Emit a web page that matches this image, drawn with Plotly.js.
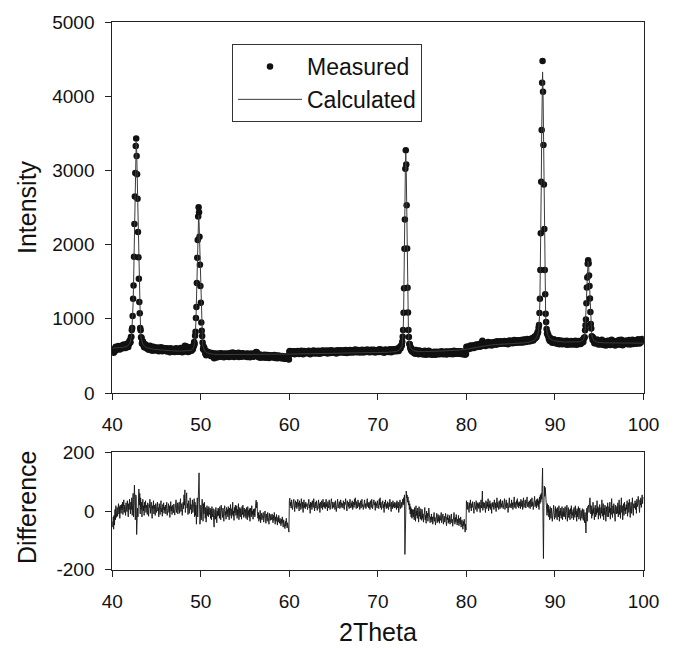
<!DOCTYPE html>
<html>
<head>
<meta charset="utf-8">
<script src="https://cdn.plot.ly/plotly-3.0.1.min.js"></script>
<style>html,body{margin:0;padding:0;background:#fff;}#chart{width:675px;height:648px;}</style>
</head>
<body>
<div id="chart"></div>
<script>
// 2Theta sampling grid: start and step of the scan
const X_START = 40;
const X_STEP = 0.05;

// Calculated (fitted) intensity, one row per degree (40.00 ... 40.95, 41.00 ...), last value at 100.00
const calculated = [
605,605,605,605,605,605,605,605,606,606,606,607,607,608,608,609,609,610,611,612,
613,613,614,615,615,616,617,618,619,621,623,625,626,629,632,636,641,647,655,665,
677,695,720,753,805,891,1019,1211,1469,1802,2191,2608,2995,3275,3380,3274,2994,2607,2190,1800,
1466,1207,1015,887,800,747,714,688,670,657,646,638,631,626,622,618,615,612,610,607,
605,603,602,601,599,598,596,595,594,593,593,591,591,590,589,589,588,587,586,586,
585,585,584,584,583,583,582,582,581,581,580,580,579,579,578,578,577,577,576,576,
575,575,574,574,573,573,572,572,572,571,571,571,570,570,570,569,569,569,568,568,
568,567,567,567,566,566,566,565,565,565,564,564,564,564,564,563,563,563,563,563,
564,564,563,564,564,564,564,565,564,565,566,566,567,568,568,569,571,572,575,578,
582,588,596,609,621,644,680,742,841,991,1203,1473,1779,2081,2309,2395,2307,2077,1774,1466,
1195,981,830,729,666,628,604,590,576,566,559,553,548,544,541,538,537,535,533,532,
530,529,528,527,526,525,524,524,523,523,522,522,521,521,520,520,520,519,519,519,
518,518,518,518,517,517,517,517,517,517,517,517,516,516,516,516,516,516,516,516,
516,516,516,516,516,516,516,516,516,516,516,516,516,516,516,516,516,516,516,516,
516,516,516,516,516,516,516,516,516,516,516,516,516,516,516,516,516,516,516,516,
516,516,516,516,516,516,516,516,516,516,516,516,516,516,516,516,516,516,516,516,
516,516,516,516,516,516,516,516,516,516,516,516,516,516,516,516,516,516,516,516,
516,516,516,516,516,516,516,516,516,516,517,517,517,517,517,517,517,517,517,517,
517,517,517,517,517,518,518,518,518,518,518,518,518,518,518,519,519,519,519,519,
519,519,519,519,519,520,520,520,520,520,520,520,521,521,521,521,521,521,522,522,
522,522,522,523,523,523,523,524,524,524,524,525,525,525,525,525,526,526,526,526,
526,526,527,527,527,527,527,528,528,528,528,528,528,529,529,529,529,529,529,529,
529,530,530,530,530,530,530,530,530,531,531,531,531,531,531,531,531,531,532,532,
532,532,532,532,532,532,532,532,533,533,533,533,533,533,533,533,533,533,534,534,
534,534,534,534,534,534,534,534,534,535,535,535,535,535,535,535,535,535,535,536,
536,536,536,536,536,536,536,536,536,537,537,537,537,537,537,537,537,537,537,538,
538,538,538,538,538,538,538,538,538,539,539,539,539,539,539,539,539,539,539,540,
540,540,540,540,540,540,540,540,540,541,541,541,541,541,541,541,541,541,541,542,
542,542,542,542,542,542,542,542,542,543,543,543,543,543,543,543,543,543,543,544,
544,544,544,544,544,544,544,544,544,545,545,545,545,545,545,545,545,545,545,546,
546,546,546,546,546,546,546,546,546,546,546,546,546,547,547,547,547,547,547,547,
548,548,548,548,549,549,549,550,550,550,551,551,552,552,553,553,554,554,555,556,
557,558,559,561,563,566,569,572,576,581,586,593,601,613,629,656,718,828,1037,1386,
1890,2485,3011,3231,3011,2486,1891,1387,1038,829,719,657,631,615,603,595,588,583,579,575,
572,569,567,566,564,563,562,561,561,560,560,559,560,559,559,558,558,559,558,558,
558,558,558,558,558,558,558,559,559,559,559,559,559,560,560,560,560,560,560,561,
561,561,561,561,561,562,562,562,562,562,563,563,563,563,563,564,564,564,564,564,
565,565,565,566,566,566,566,567,567,567,568,568,568,568,569,569,569,570,570,570,
571,571,571,572,572,572,573,573,573,574,574,574,575,575,575,576,576,576,577,577,
578,578,579,579,580,580,581,581,582,582,583,583,584,584,585,586,586,587,588,589,
590,591,592,593,594,596,597,598,600,601,603,604,606,607,609,610,612,613,614,616,
617,618,620,621,622,623,625,626,627,628,629,630,631,632,633,634,635,636,637,638,
638,639,640,640,641,642,642,643,644,644,645,645,646,646,647,647,648,648,649,649,
650,650,651,651,651,652,652,653,653,653,654,654,655,655,655,656,656,657,657,657,
658,658,658,659,659,659,660,660,660,661,661,661,662,662,662,663,663,663,664,664,
665,665,665,666,666,666,667,667,667,668,668,668,669,669,669,670,670,670,671,671,
672,672,672,673,673,673,674,674,674,675,675,676,678,678,679,680,680,681,682,682,
684,684,685,687,688,689,691,692,694,697,699,701,705,708,712,718,724,731,740,751,
770,781,807,843,910,1030,1245,1601,2122,2787,3504,4090,4327,4091,3506,2790,2126,1606,1251,1037,
918,852,816,791,780,762,751,742,735,729,724,720,716,713,711,709,707,704,703,702,
700,699,698,696,696,695,694,693,693,692,691,691,691,690,689,689,689,688,688,688,
686,686,686,686,685,685,685,685,685,684,684,684,684,684,683,683,683,683,683,682,
684,684,684,684,684,684,685,685,684,685,685,686,686,687,687,688,689,691,693,696,
699,703,707,713,721,734,756,792,852,941,1067,1228,1411,1590,1726,1778,1726,1590,1411,1228,
1066,940,851,791,754,732,719,711,705,701,697,694,691,688,686,685,684,683,682,682,
681,680,679,679,678,678,678,677,677,677,676,676,676,676,676,675,675,675,675,675,
675,675,675,675,675,675,675,675,675,675,675,675,675,675,675,675,675,675,675,675,
675,675,675,675,675,675,675,675,675,675,674,674,674,674,674,674,674,674,674,674,
674,674,674,674,674,674,674,674,674,674,674,674,674,674,674,674,674,674,674,674,
673,673,673,673,673,673,673,673,673,673,673,673,673,673,673,673,673,673,673,673,
672
];

// Difference (measured - calculated), same grid
const difference = [
-35,-55,-20,-62,-15,-48,5,-30,18,-22,-5,12,-18,8,25,-10,15,-25,20,2,
-8,22,5,30,-12,15,38,-5,20,8,-15,28,12,-2,35,10,-20,25,5,40,
12,-10,30,5,45,-15,20,60,-20,35,88,40,-30,55,50,-80,-45,10,-20,30,
75,20,60,-10,45,5,30,-20,25,40,0,18,-15,30,10,35,-5,20,8,-12,
28,5,-18,22,12,40,-8,15,30,2,-25,18,8,35,-10,20,5,-15,25,12,
-5,18,30,0,12,-20,25,8,-12,15,35,-3,10,-18,22,5,28,-8,14,2,
20,-10,8,30,-15,12,5,25,-5,18,-22,10,32,0,15,-12,20,8,-6,24,
5,-14,22,10,38,-5,15,28,-10,20,3,30,-8,12,42,-2,18,25,-15,10,
30,8,55,20,72,-5,40,15,62,10,25,-12,35,18,-8,28,45,5,22,-10,
15,38,-5,25,10,42,-20,30,-15,20,-45,10,45,-20,70,110,130,30,-45,-25,
20,-30,10,40,15,-35,25,-10,30,5,-25,12,-38,0,18,-15,8,-20,15,-5,
-12,10,-25,5,-30,15,-8,-20,8,-35,-55,-15,5,-28,12,-10,-40,0,-18,10,
-15,8,-25,15,-5,-30,20,-12,0,-22,10,-8,-35,5,18,-15,-2,-28,12,-10,
5,-20,15,-8,-30,10,-15,22,-5,-25,8,-12,30,-18,0,-32,12,-6,20,-15,
-10,18,-25,5,-15,25,-30,0,12,-20,8,-5,-28,15,-12,20,-8,-22,10,-3,
-18,5,-25,12,-8,-30,15,-15,2,-22,8,-35,10,-5,-20,18,-12,0,-28,6,
-15,8,-20,-5,25,37,10,30,-10,-25,-5,-35,-15,-28,2,-40,-20,-8,-30,-12,
-22,-5,-38,-15,-30,0,-25,-42,-10,-20,-35,-5,-28,-18,-45,-8,-25,-32,-12,-22,
-30,-10,-25,-40,-15,-32,-5,-28,-45,-20,-35,-12,-30,-48,-22,-38,-15,-30,-42,-25,
-35,-50,-28,-42,-20,-45,-55,-30,-48,-38,-60,-35,-52,-25,-45,-58,-40,-62,-50,-72,
35,44,18,30,10,38,22,5,28,15,40,20,-2,25,35,12,30,8,22,40,
15,28,0,35,18,25,5,42,20,10,30,-5,22,38,12,25,8,30,15,20,
25,5,32,18,40,10,22,-8,30,15,28,5,35,20,12,42,18,0,25,30,
10,35,20,2,28,15,38,8,25,-5,30,18,10,35,22,5,40,15,28,12,
30,8,22,40,15,25,0,32,18,10,38,20,5,28,15,42,22,8,30,18,
12,30,25,5,35,18,-2,28,20,40,10,25,15,32,8,22,38,12,28,20,
25,10,35,18,5,30,22,42,12,28,0,35,20,15,30,8,25,40,18,10,
28,15,35,5,22,30,12,40,20,45,25,8,32,18,10,38,22,15,28,5,
20,35,10,28,40,15,22,5,30,18,38,12,25,8,32,20,42,15,28,10,
30,18,5,35,22,12,40,25,8,30,15,38,20,28,2,32,18,25,10,35,
15,28,8,40,20,45,12,30,5,25,18,35,10,22,-5,30,15,38,20,8,
25,10,32,18,5,28,15,40,12,22,-2,30,20,8,35,15,25,10,30,18,
12,28,5,35,20,10,30,-5,25,15,38,8,22,30,12,35,40,20,45,25,
55,-148,10,40,68,45,55,30,48,20,35,5,25,-10,15,-20,8,-25,5,-15,
-20,5,-30,12,-8,-35,18,-15,0,-25,10,-5,-38,15,-18,-2,-28,8,-12,-32,
5,-25,-10,-38,-5,-20,12,-30,-15,-42,0,-22,-8,-35,-18,10,-28,-12,-40,-20,
-30,-10,-38,-20,-45,-15,-28,-5,-35,-22,-48,-18,-30,-8,-40,-25,-12,-35,-20,-42,
-15,-32,-25,-5,-40,-20,-30,-10,-45,-28,-18,-38,-22,-8,-35,-50,-20,-30,-12,-42,
-25,-38,-15,-45,-20,-30,-10,-40,-28,-52,-18,-35,-5,-30,-45,-22,-38,-12,-30,-48,
-28,-40,-15,-50,-32,-25,-45,-20,-55,-38,-30,-48,-62,-35,-50,-28,-58,-72,-45,-65,
35,20,5,30,15,25,-5,28,10,38,18,0,25,12,32,8,22,-8,30,15,
20,5,35,15,-2,28,12,25,8,30,18,-5,22,38,10,25,68,2,30,15,
10,28,18,-5,35,20,8,30,15,42,0,22,12,35,5,25,18,-8,28,15,
30,15,5,38,20,10,28,-2,25,45,12,30,18,5,35,22,8,40,15,25,
12,35,22,8,30,18,42,5,25,15,38,10,28,20,-5,32,18,45,12,25,
22,10,38,15,28,5,35,20,48,12,30,18,8,35,22,42,15,28,10,32,
18,30,8,40,22,15,35,5,28,45,12,25,18,38,10,30,20,48,15,25,
30,12,35,22,8,40,25,15,45,18,30,5,38,22,50,15,28,35,10,40,
20,42,15,35,5,48,25,55,30,60,40,90,146,-30,-162,20,85,50,80,30,
40,10,-15,25,-5,20,-20,5,-30,15,-8,-25,10,-12,-35,5,-18,20,-10,-28,
-5,15,-22,8,-12,-30,12,-5,-20,18,-35,0,-15,10,-25,-8,15,-30,-2,-18,
10,-20,-5,15,-28,0,-12,20,-35,-8,12,-22,5,-15,-30,8,-10,18,-25,-5,
-15,5,-30,12,-8,-22,18,-12,0,-35,8,-20,-5,15,-28,-10,10,-18,-32,2,
-10,-25,8,-18,-32,5,-15,-40,-5,-28,-75,-20,10,-35,15,12,20,-5,30,45,
25,-10,18,-25,5,-15,30,-8,12,-30,0,20,-20,8,-12,35,-5,15,-28,10,
-15,22,5,-25,12,-8,38,-18,0,25,-30,10,-12,20,-5,-35,15,5,-20,28,
8,-20,15,-5,30,-28,10,-12,42,0,-22,18,-8,25,-15,5,-35,20,12,-10,
15,-8,28,-20,5,38,-12,20,-25,10,45,-5,18,-30,8,25,-15,30,0,12,
-10,22,5,35,-18,12,28,-5,40,8,-22,18,30,-8,15,45,2,-15,25,10,
18,35,5,28,-8,40,15,25,50,10,32,-5,38,20,45,12,30,55,25,40,
48
];

const topTicks = [0, 1000, 2000, 3000, 4000, 5000];
const diffTicks = [-200, 0, 200];
const diffTickText = ['-200', '0', '200'];
const xTicks = [40, 50, 60, 70, 80, 90, 100];
const seriesNames = ['Measured', 'Calculated'];

if (calculated.length !== difference.length) {
  throw new Error('length mismatch: calculated ' + calculated.length + ' difference ' + difference.length);
}

const theta = calculated.map((_, i) => +(X_START + i * X_STEP).toFixed(2));
const measured = calculated.map((c, i) => c + difference[i]);

const FONT = 'Arial, "Liberation Sans", "DejaVu Sans", sans-serif';
const AX = '#222';

const traces = [
  {x: theta, y: measured, type: 'scatter', mode: 'markers', name: seriesNames[0],
   marker: {color: '#111', size: 6.5}, xaxis: 'x', yaxis: 'y'},
  {x: theta, y: calculated, type: 'scatter', mode: 'lines', name: seriesNames[1],
   line: {color: '#3a3a3a', width: 1}, xaxis: 'x', yaxis: 'y'},
  {x: theta, y: difference, type: 'scatter', mode: 'lines', name: 'Difference',
   line: {color: '#161616', width: 0.9}, xaxis: 'x2', yaxis: 'y2', showlegend: false}
];

const W = 675, H = 648;
const xl = 112.3 / W, xr = 643.5 / W;

function axisBase() {
  return {
    showgrid: false, zeroline: false, showline: true, linecolor: AX, linewidth: 1,
    mirror: true, ticks: 'outside', ticklen: 6, tickwidth: 1, tickcolor: AX,
    tickfont: {family: FONT, size: 19, color: '#111'}
  };
}

const layout = {
  width: W, height: H,
  margin: {l: 0, r: 0, t: 0, b: 0, pad: 0},
  paper_bgcolor: '#fff', plot_bgcolor: '#fff',
  font: {family: FONT, color: '#111'},
  showlegend: true,
  legend: {
    x: 232 / W, y: 1 - 44 / H, xanchor: 'left', yanchor: 'top',
    bgcolor: '#fff', bordercolor: '#333', borderwidth: 1,
    font: {family: FONT, size: 23, color: '#111'},
    itemwidth: 64, tracegroupgap: 0
  },
  xaxis: Object.assign(axisBase(), {domain: [xl, xr], range: [40, 100], tickvals: xTicks,
    anchor: 'y', ticklabelstandoff: 8}),
  yaxis: Object.assign(axisBase(), {domain: [1 - 393 / H, 1 - 22 / H], range: [0, 5000],
    tickvals: topTicks, anchor: 'x', ticklabelstandoff: 7}),
  xaxis2: Object.assign(axisBase(), {domain: [xl, xr], range: [40, 100], tickvals: xTicks,
    anchor: 'y2', ticklabelstandoff: 8}),
  yaxis2: Object.assign(axisBase(), {domain: [1 - 569.7 / H, 1 - 452.3 / H], range: [-200, 200],
    tickvals: diffTicks, ticktext: diffTickText, anchor: 'x2', ticklabelstandoff: 7}),
  annotations: [
    {text: 'Intensity', xref: 'paper', yref: 'paper', x: 27 / W, y: 1 - 207 / H,
     textangle: -90, showarrow: false, xanchor: 'center', yanchor: 'middle',
     font: {family: FONT, size: 25, color: '#111'}},
    {text: 'Difference', xref: 'paper', yref: 'paper', x: 27 / W, y: 1 - 507 / H,
     textangle: -90, showarrow: false, xanchor: 'center', yanchor: 'middle',
     font: {family: FONT, size: 25, color: '#111'}},
    {text: '2Theta', xref: 'paper', yref: 'paper', x: 378 / W, y: 1 - 632 / H,
     showarrow: false, xanchor: 'center', yanchor: 'middle',
     font: {family: FONT, size: 25, color: '#111'}}
  ]
};

Plotly.newPlot('chart', traces, layout, {displayModeBar: false, staticPlot: true});
</script>
</body>
</html>
